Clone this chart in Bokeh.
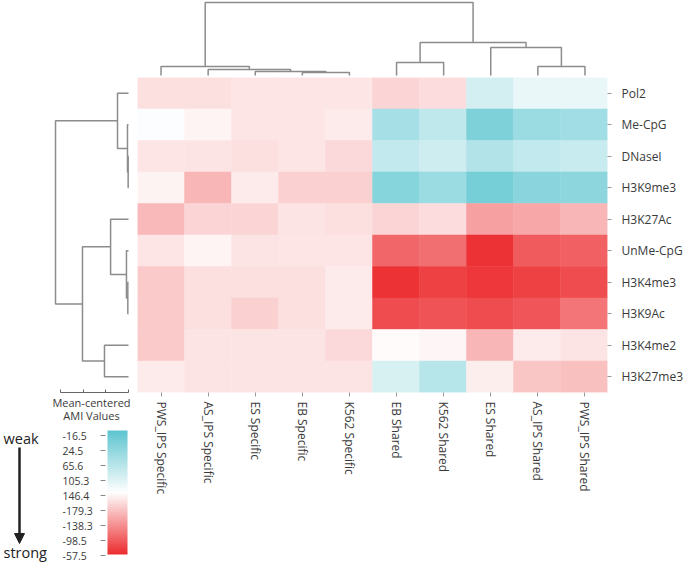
import numpy as np
from bokeh.plotting import figure
from bokeh.models import (FactorRange, Range1d, LinearColorMapper, ColumnDataSource,
                          FixedTicker, Spacer, Arrow, NormalHead, LinearAxis, CustomJSTickFormatter)
from bokeh.layouts import column, row
from bokeh.transform import transform
from bokeh.core.properties import value
from bokeh.embed import file_html
from bokeh.resources import INLINE

# ---------------- data ----------------
columns = ["PWS_IPS Specific", "AS_IPS Specific", "ES Specific", "EB Specific", "K562 Specific",
           "EB Shared", "K562  Shared", "ES Shared", "AS_IPS Shared", "PWS_IPS Shared"]
rows = ["Pol2", "Me-CpG", "DNaseI", "H3K9me3", "H3K27Ac",
        "UnMe-CpG", "H3K4me3", "H3K9Ac", "H3K4me2", "H3K27me3"]

# cell values: -1 = weak (teal) ... 0 = mean ... +1 = strong (red)
pol2     = [0.15, 0.15, 0.12, 0.12, 0.12, 0.20, 0.17, -0.27, -0.13, -0.13]
me_cpg   = [-0.03, 0.05, 0.12, 0.12, 0.10, -0.55, -0.40, -0.80, -0.62, -0.58]
dnasei   = [0.12, 0.13, 0.15, 0.12, 0.18, -0.38, -0.30, -0.48, -0.38, -0.35]
h3k9me3  = [0.06, 0.35, 0.10, 0.22, 0.22, -0.75, -0.62, -0.85, -0.72, -0.70]
h3k27ac  = [0.33, 0.20, 0.20, 0.13, 0.15, 0.20, 0.17, 0.45, 0.42, 0.35]
unme_cpg = [0.12, 0.05, 0.13, 0.12, 0.12, 0.72, 0.68, 0.97, 0.78, 0.75]
h3k4me3  = [0.25, 0.15, 0.15, 0.15, 0.10, 0.97, 0.90, 0.95, 0.90, 0.85]
h3k9ac   = [0.25, 0.15, 0.22, 0.15, 0.10, 0.85, 0.82, 0.85, 0.80, 0.65]
h3k4me2  = [0.25, 0.13, 0.13, 0.13, 0.18, 0.02, 0.04, 0.35, 0.10, 0.13]
h3k27me3 = [0.10, 0.13, 0.13, 0.13, 0.13, -0.25, -0.45, 0.08, 0.28, 0.30]
row_values = [pol2, me_cpg, dnasei, h3k9me3, h3k27ac, unme_cpg, h3k4me3, h3k9ac, h3k4me2, h3k27me3]

# dendrogram merges: (child a, child b, height); ids >= 10 are earlier merges
top_merges = [(3, 4, 0.13), (2, 10, 0.18), (1, 11, 0.26), (0, 12, 0.40), (5, 6, 0.57),
              (8, 9, 0.40), (7, 15, 1.24), (14, 16, 1.46), (13, 17, 3.22)]
left_merges = [(2, 3, 0.015), (1, 10, 0.045), (0, 11, 0.485), (6, 7, 0.03), (5, 13, 0.09),
               (4, 14, 0.79), (8, 9, 1.06), (15, 16, 2.03), (12, 17, 3.22)]
dendro_scale_ticks = [0, 1, 2, 3]

legend_title = ["Mean-centered", "AMI Values"]
legend_labels = ["-16.5", "24.5", "65.6", "105.3", "146.4", "-179.3", "-138.3", "-98.5", "-57.5"]

# ---------------- style ----------------
FONT = "Open Sans"
TXT = "#3a3a3a"
LINE = "#8c8c8c"

def lerp(c1, c2, t):
    return tuple(int(round(a + (b - a) * t)) for a, b in zip(c1, c2))

teal, white, red = (94, 197, 208), (255, 255, 255), (236, 45, 48)
palette = []
for i in range(256):
    t = i / 255
    c = lerp(teal, white, t / 0.5) if t < 0.5 else lerp(white, red, (t - 0.5) / 0.5)
    palette.append("#%02x%02x%02x" % c)
mapper = LinearColorMapper(palette=palette, low=-1, high=1)

FW, FH = 471, 315       # heatmap frame
LW = 137                # left column width
TH = 77                 # top dendrogram height
RB = 77                 # right border
BB = 170                # bottom border of main
PXU = 22.667            # pixels per dendrogram height unit

# ---------------- heatmap ----------------
xs, ys, vs = [], [], []
for r, vals in zip(rows, row_values):
    for c, v in zip(columns, vals):
        xs.append(c); ys.append(r); vs.append(v)
src = ColumnDataSource(dict(x=xs, y=ys, v=vs))

p = figure(x_range=FactorRange(*columns), y_range=FactorRange(*reversed(rows)),
           width=FW + RB, height=FH + BB, output_backend="svg", toolbar_location=None,
           x_axis_location="below", y_axis_location="right", title=None,
           min_border_left=0, min_border_top=0, min_border_right=RB, min_border_bottom=BB)
p.rect(x="x", y="y", width=1, height=1, source=src,
       fill_color=transform("v", mapper), line_color=transform("v", mapper), line_width=0.5)
p.outline_line_color = None
p.grid.visible = False
for ax in (p.xaxis[0], p.yaxis[0]):
    ax.axis_line_color = None
    ax.major_tick_line_color = "#999999"
    ax.major_tick_out = 4
    ax.major_tick_in = 0
    ax.minor_tick_line_color = None
    ax.major_label_text_font = FONT
    ax.major_label_text_color = TXT
    ax.major_label_text_font_size = "12px"
p.xaxis.major_label_orientation = -np.pi / 2
p.xaxis.major_label_standoff = 5
p.yaxis.major_label_standoff = 10

# ---------------- dendrograms ----------------
def dendro(merges, leaf_pos):
    n = len(leaf_pos)
    pos = {i: leaf_pos[i] for i in range(n)}
    hgt = {i: 0.0 for i in range(n)}
    P, H = [], []
    for k, (a, b, h) in enumerate(merges):
        P.append([pos[a], pos[a], pos[b], pos[b]])
        H.append([hgt[a], h, h, hgt[b]])
        pos[n + k] = (pos[a] + pos[b]) / 2
        hgt[n + k] = h
    return P, H

# top
tP, tH = dendro(top_merges, [i + 0.5 for i in range(len(columns))])
tf = figure(x_range=Range1d(0, 10), y_range=Range1d(-2 / PXU, 75 / PXU), width=FW, height=TH,
            output_backend="svg", toolbar_location=None, title=None,
            x_axis_type=None, y_axis_type=None, min_border=0)
tf.multi_line(xs=tP, ys=tH, line_color=LINE, line_width=1.5)
tf.outline_line_color = None
tf.grid.visible = False

# left
lP, lH = dendro(left_merges, [len(rows) - 0.5 - i for i in range(len(rows))])
LB = 3
lf = figure(x_range=Range1d(128 / PXU, -9 / PXU), y_range=Range1d(0, 10), width=LW, height=FH + LB,
            output_backend="svg", toolbar_location=None, title=None,
            x_axis_type=None, y_axis_type=None, min_border=0, min_border_bottom=LB)
lf.multi_line(xs=lH, ys=lP, line_color=LINE, line_width=1.5)
sax = LinearAxis(ticker=FixedTicker(ticks=dendro_scale_ticks), bounds=(0, 3),
                 formatter=CustomJSTickFormatter(code="return ''"),
                 major_tick_in=3, major_tick_out=0, major_label_text_font_size="1px",
                 major_label_standoff=0, minor_tick_line_color=None,
                 axis_line_color="#666666", major_tick_line_color="#666666")
lf.add_layout(sax, "below")
lf.outline_line_color = None
lf.grid.visible = False

# ---------------- colour legend ----------------
CH = BB - LB               # height of legend figure
bot_page = TH + FH + LB + CH
def fy(py):
    return bot_page - py
def fx(px):
    return px

cf = figure(x_range=Range1d(0, LW), y_range=Range1d(0, CH), width=LW, height=CH,
            output_backend="svg", toolbar_location=None, title=None,
            x_axis_type=None, y_axis_type=None, min_border=0)
cf.outline_line_color = None
cf.grid.visible = False

bar_top, bar_bot = 430, 554
grad = np.linspace(1, -1, 200).reshape(-1, 1)
cf.image(image=[grad], x=fx(107), y=fy(bar_bot), dw=20, dh=bar_bot - bar_top, color_mapper=mapper)

lab_y = [fy(v) for v in np.linspace(435, 555, len(legend_labels))]
cf.text(x=[fx(62)] * len(legend_labels), y=lab_y, text=legend_labels,
        text_font=value(FONT), text_font_size="10.5px", text_color=TXT,
        text_align="left", text_baseline="middle")
cf.segment(x0=[fx(100)] * len(lab_y), y0=lab_y, x1=[fx(105)] * len(lab_y), y1=lab_y,
           line_color="#888888", line_width=1)
cf.text(x=[fx(91)] * 2, y=[fy(402), fy(415)], text=legend_title,
        text_font=value(FONT), text_font_size="11px", text_color=TXT,
        text_align="center", text_baseline="middle")
cf.text(x=[fx(3)] * 2, y=[fy(438), fy(552)], text=["weak", "strong"],
        text_font=value(FONT), text_font_size="14.5px", text_color="#222222",
        text_align="left", text_baseline="middle")
cf.add_layout(Arrow(x_start=fx(19), y_start=fy(447), x_end=fx(19), y_end=fy(543),
                    line_color="#222222", line_width=2.5,
                    end=NormalHead(size=10, fill_color="#222222", line_color="#222222")))

layout = column(row(Spacer(width=LW, height=TH), tf), row(column(lf, cf), p))
open("out.html", "w").write(file_html(layout, INLINE))
